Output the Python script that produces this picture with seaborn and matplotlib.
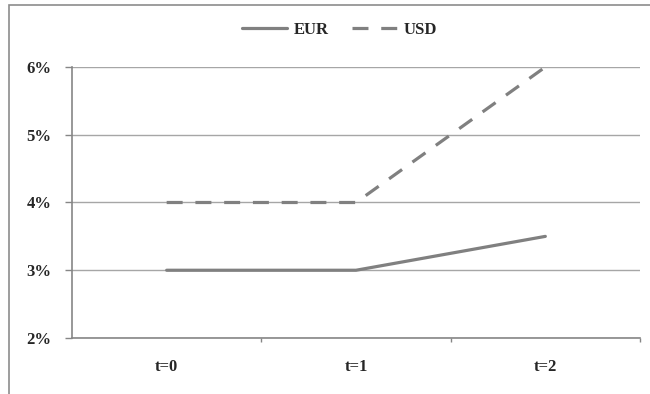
import matplotlib
matplotlib.use('Agg')
import matplotlib.pyplot as plt
import seaborn as sns
import pandas as pd
from matplotlib.patches import Rectangle
from matplotlib.ticker import FuncFormatter, FixedLocator

# Chart data
periods = ["t=0", "t=1", "t=2"]
eur = [0.030, 0.030, 0.035]
usd = [0.040, 0.040, 0.060]

sns.set_style("white")
plt.rcParams['font.family'] = ['Liberation Serif', 'DejaVu Serif']
plt.rcParams['font.weight'] = 'bold'

df = pd.DataFrame({
    "pos": list(range(len(periods))) * 2,
    "rate": eur + usd,
    "series": ["EUR"] * len(eur) + ["USD"] * len(usd),
})

fig = plt.figure(figsize=(6.5, 3.94), dpi=100)
W, H = 650, 394
ax = fig.add_axes([72 / W, 1 - 338 / H, (640 - 72) / W, (338 - 67) / H])

gray = "#808080"
sns.lineplot(data=df, x="pos", y="rate", style="series",
             dashes={"EUR": "", "USD": (5, 4)},
             color=gray, linewidth=2.3, ax=ax, legend=False)

ax.set_xlim(-0.5, 2.5)
ax.set_ylim(0.02, 0.06)
ax.set_yticks([0.02, 0.03, 0.04, 0.05, 0.06])
ax.yaxis.set_major_formatter(FuncFormatter(lambda v, p: f"{v * 100:.0f}%"))
ax.yaxis.grid(True, color="#a6a6a6", linewidth=1.0)
ax.set_axisbelow(True)

ax.set_xticks(range(len(periods)))
ax.set_xticklabels(periods)
ax.xaxis.set_minor_locator(FixedLocator([0.5, 1.5, 2.5]))
ax.tick_params(axis="x", which="major", length=0, pad=15, labelsize=12)
ax.tick_params(axis="x", which="minor", length=3, color="#868686", width=1, direction="out", bottom=True)
ax.tick_params(axis="y", length=5, color="#868686", width=1, direction="out", left=True, pad=10, labelsize=12)
for lab in ax.get_xticklabels() + ax.get_yticklabels():
    lab.set_fontweight("bold")

ax.set_xlabel("")
ax.set_ylabel("")
for side in ["top", "right"]:
    ax.spines[side].set_visible(False)
for side in ["left", "bottom"]:
    ax.spines[side].set_color("#868686")
    ax.spines[side].set_linewidth(1.2)

# legend
handles = [
    plt.Line2D([], [], color=gray, linewidth=2.3),
    plt.Line2D([], [], color=gray, linewidth=2.3, dashes=(5, 4)),
]
leg = fig.legend(handles, ["EUR", "USD"], loc="center", ncol=2,
                 bbox_to_anchor=(340 / W, 1 - 30 / H), frameon=False,
                 handlelength=2.7, handletextpad=0.4, columnspacing=1.4,
                 prop={"family": "Liberation Serif", "weight": "bold", "size": 12})

# outer chart frame (partially cropped)
fig.patches.append(Rectangle((9 / W, -0.1), 1.2, 1 - 5 / H + 0.1,
                             transform=fig.transFigure, fill=False,
                             edgecolor="#8c8c8c", linewidth=1.2))

fig.savefig("out.png", dpi=100)
